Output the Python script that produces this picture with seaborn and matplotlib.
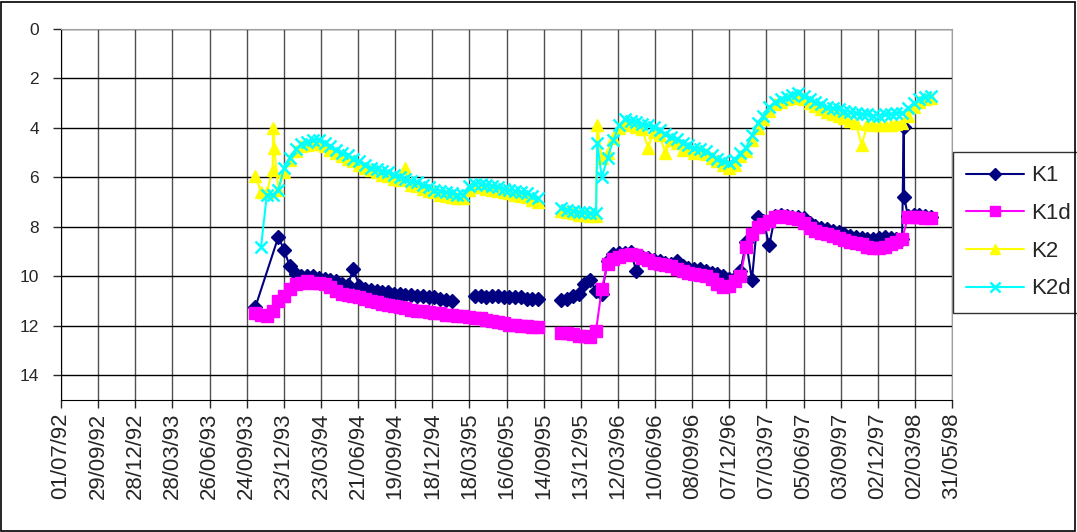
import numpy as np
import pandas as pd
import matplotlib
matplotlib.use("Agg")
import matplotlib.pyplot as plt
import matplotlib.dates as mdates
from matplotlib.lines import Line2D
from matplotlib.patches import Rectangle
import seaborn as sns

# %%
# sampling dates (fortnightly readings)
dates = pd.date_range("1993-10-15", periods=118, freq="14D")
nan = np.nan

k1 = [11.25, nan, nan, nan, 8.4, 8.95, 9.6, 9.9, 10.0, 10.0,
      10.0, 10.05, 10.1, 10.15, 10.2, 10.3, 10.35, 9.7, 10.4, 10.5,
      10.55, 10.6, 10.65, 10.65, 10.7, 10.7, 10.75, 10.75, 10.8, 10.8,
      10.85, 10.85, 10.9, 10.95, 11.0, nan, nan, nan, 10.8, 10.8,
      10.85, 10.8, 10.8, 10.85, 10.85, 10.85, 10.85, 10.9, 10.9, 10.9,
      nan, nan, nan, 10.95, 10.9, 10.8, 10.7, 10.3, 10.15, 10.6,
      10.7, 9.4, 9.1, 9.05, 9.05, 9.0, 9.8, 9.2, 9.25, 9.35,
      9.4, 9.45, 9.5, 9.4, 9.6, 9.65, 9.7, 9.7, 9.8, 9.85,
      9.9, 10.0, 10.1, 10.05, 9.8, 8.6, 10.15, 7.6, 7.75, 8.75,
      7.55, 7.5, 7.55, 7.6, 7.6, 7.65, 7.85, 7.95, 8.05, 8.1,
      8.15, 8.2, 8.3, 8.35, 8.4, 8.45, 8.5, 8.5, 8.45, 8.4,
      8.45, 8.5, 8.5, 7.55, 7.5, 7.5, 7.55, 7.6]
k1d = [11.5, 11.55, 11.6, 11.4, 11.0, 10.8, 10.5, 10.3, 10.25, 10.2,
       10.25, 10.25, 10.3, 10.45, 10.6, 10.7, 10.75, 10.8, 10.85, 10.9,
       11.0, 11.05, 11.1, 11.15, 11.2, 11.25, 11.3, 11.35, 11.4, 11.4,
       11.45, 11.5, 11.5, 11.55, 11.55, 11.6, 11.6, 11.65, 11.7, 11.7,
       11.75, 11.8, 11.85, 11.9, 11.95, 11.95, 12.0, 12.0, 12.05, 12.05,
       nan, nan, nan, 12.3, 12.3, 12.35, 12.4, 12.4, 12.45, 12.2,
       10.5, 9.5, 9.3, 9.2, 9.15, 9.1, 9.15, 9.25, 9.35, 9.45,
       9.5, 9.55, 9.6, 9.7, 9.8, 9.85, 9.9, 9.95, 10.0, 10.1,
       10.3, 10.45, 10.4, 10.2, 10.0, 8.8, 8.3, 8.0, 7.9, 7.75,
       7.6, 7.55, 7.6, 7.65, 7.7, 7.85, 8.05, 8.15, 8.25, 8.3,
       8.35, 8.45, 8.55, 8.6, 8.65, 8.7, 8.8, 8.85, 8.85, 8.8,
       8.7, 8.6, 8.5, 7.6, 7.6, 7.6, 7.65, 7.65]
k2 = [5.95, 6.6, 6.6, 5.7, 6.5, 5.8, 5.3, 4.95, 4.75, 4.7,
      4.65, 4.65, 4.75, 4.9, 5.0, 5.15, 5.25, 5.35, 5.5, 5.6,
      5.7, 5.8, 5.9, 5.95, 6.05, 6.1, 5.6, 6.3, 6.35, 6.45,
      6.55, 6.6, 6.7, 6.75, 6.8, 6.85, 6.85, 6.5, 6.4, 6.4,
      6.45, 6.5, 6.55, 6.6, 6.65, 6.7, 6.75, 6.8, 6.9, 7.0,
      nan, nan, nan, 7.35, 7.4, 7.45, 7.5, 7.5, 7.55, 7.55,
      5.2, 5.0, 4.4, 4.0, 3.85, 3.9, 3.95, 4.05, 4.8, 4.15,
      4.3, 5.0, 4.5, 4.6, 4.9, 4.85, 5.0, 4.95, 5.05, 5.2,
      5.35, 5.5, 5.6, 5.5, 5.15, 4.95, 4.5, 4.0, 3.65, 3.3,
      3.05, 2.95, 2.85, 2.8, 2.75, 2.85, 3.0, 3.1, 3.25, 3.35,
      3.45, 3.5, 3.6, 3.7, 3.8, 4.7, 3.85, 3.9, 3.9, 3.9,
      3.9, 3.85, 3.8, 3.5, 3.15, 2.95, 2.85, 2.8]
k2d = [nan, 8.8, 6.7, 6.7, 6.5, 5.6, 5.2, 4.85, 4.65, 4.55,
       4.5, 4.5, 4.6, 4.75, 4.9, 5.0, 5.1, 5.25, 5.35, 5.5,
       5.6, 5.65, 5.75, 5.8, 5.9, 6.0, 6.05, 6.15, 6.2, 6.3,
       6.4, 6.5, 6.55, 6.6, 6.65, 6.7, 6.7, 6.35, 6.25, 6.25,
       6.3, 6.35, 6.4, 6.45, 6.5, 6.55, 6.6, 6.65, 6.75, 6.85,
       nan, nan, nan, 7.25, 7.3, 7.35, 7.4, 7.4, 7.45, 7.45,
       6.0, 5.2, 4.5, 3.9, 3.65, 3.7, 3.75, 3.85, 3.9, 3.95,
       4.1, 4.25, 4.35, 4.45, 4.6, 4.7, 4.8, 4.85, 4.95, 5.1,
       5.25, 5.35, 5.4, 5.3, 5.0, 4.8, 4.3, 3.8, 3.5, 3.15,
       2.95, 2.85, 2.75, 2.65, 2.6, 2.7, 2.85, 2.95, 3.05, 3.15,
       3.2, 3.25, 3.3, 3.35, 3.4, 3.45, 3.45, 3.5, 3.5, 3.45,
       3.45, 3.4, 3.4, 3.2, 3.0, 2.85, 2.75, 2.7]

# single off-grid readings (spikes)
k1_extra_dates = ["1998-02-03", "1998-02-04"]
k1_extra = [3.95, 6.8]
k2_extra_dates = ["1993-11-28", "1993-11-30", "1996-01-22"]
k2_extra = [4.0, 4.8, 3.9]
k2d_extra_dates = ["1996-01-22"]
k2d_extra = [4.6]

# dates where the recorded line restarts after a gap
k1_breaks = ["1995-03-01", "1995-10-01"]
other_breaks = ["1995-10-01"]

# %%
def build(vals, extra_dates, extra_vals, breaks):
  d = pd.DataFrame({"date": dates, "value": vals})
  if extra_dates:
    d = pd.concat([d, pd.DataFrame({"date": pd.to_datetime(extra_dates), "value": extra_vals})])
  d = d.dropna().sort_values("date", kind="stable").reset_index(drop=True)
  d["seg"] = 0
  for b in breaks:
    d["seg"] += (d["date"] >= pd.Timestamp(b)).astype(int)
  return d

series = [
  ("K1", build(k1, k1_extra_dates, k1_extra, k1_breaks), "#000080", "D", 7.5, 1.0),
  ("K1d", build(k1d, [], [], other_breaks), "#FF00FF", "s", 9.0, 1.0),
  ("K2", build(k2, k2_extra_dates, k2_extra, other_breaks), "#FFFF00", "^", 8.5, 1.0),
  ("K2d", build(k2d, k2d_extra_dates, k2d_extra, other_breaks), "#00FFFF", "x", 8.5, 1.8),
]

sns.set_style("white")
plt.rcParams["font.family"] = ["Liberation Sans", "DejaVu Sans"]

fig = plt.figure(figsize=(10.77, 5.32), dpi=100)
ax = fig.add_axes([61 / 1077, 1 - 400 / 532, (952 - 61) / 1077, (400 - 29) / 532])

for name, d, col, mk, ms, mew in series:
  sns.lineplot(
    data=d, x="date", y="value", units="seg", estimator=None,
    color=col, marker=mk, markersize=ms, markeredgecolor=col,
    markeredgewidth=mew, linewidth=1.5, ax=ax,
  )

# axes
tick_dates = pd.date_range("1992-07-01", periods=25, freq="90D")
ax.set_xlim(tick_dates[0], tick_dates[-1])
ax.set_xticks(tick_dates)
ax.set_xticklabels([t.strftime("%d/%m/%y") for t in tick_dates], rotation=90, fontsize=16)
ax.set_ylim(15, 0)
ax.set_yticks(range(0, 15, 2))
ax.tick_params(axis="y", labelsize=12.5, length=6, width=1, direction="out", pad=10, left=True)
ax.tick_params(axis="x", length=6, width=1, direction="out", pad=3, bottom=True)
ax.set_xlabel("")
ax.set_ylabel("")
ax.grid(axis="y", color="black", linewidth=1)
ax.grid(axis="x", color="#505050", linewidth=1)
ax.set_axisbelow(True)
for s in ["top", "right"]:
  ax.spines[s].set_color("#a0a0a0")
for s in ["left", "bottom"]:
  ax.spines[s].set_color("black")

handles = [
  Line2D([], [], color=col, marker=mk, markersize=ms * 0.85, markeredgecolor=col,
         markeredgewidth=mew, linewidth=1.5, label=name)
  for name, d, col, mk, ms, mew in series
]
leg = ax.legend(
  handles=handles, loc="upper left", bbox_to_anchor=(953 / 1077, 1 - 152 / 532),
  bbox_transform=fig.transFigure, fontsize=16, frameon=True, fancybox=False,
  edgecolor="black", borderaxespad=0, handlelength=2.6, labelspacing=0.75,
  borderpad=0.6, handletextpad=0.3,
)
leg.get_frame().set_linewidth(1)

fig.patches.append(Rectangle((0.001, 0.002), 0.997, 0.995, transform=fig.transFigure,
                             fill=False, edgecolor="black", linewidth=1.2))

fig.savefig("out.png", dpi=100)
